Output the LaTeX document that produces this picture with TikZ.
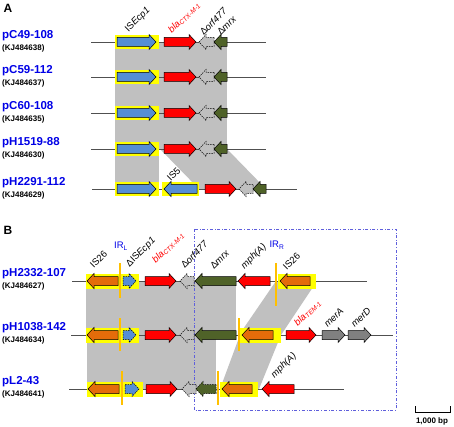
\documentclass[tikz,border=0pt]{standalone}
\usepackage{fontspec}
\setmainfont{Liberation Sans}
\usepackage{tikz}
\usetikzlibrary{positioning}

\definecolor{genblue}{RGB}{85,142,213}
\definecolor{genred}{RGB}{255,0,0}
\definecolor{genorange}{RGB}{228,108,10}
\definecolor{gengreen}{RGB}{79,98,40}
\definecolor{genlgrey}{RGB}{191,191,191}
\definecolor{gendgrey}{RGB}{128,128,128}
\definecolor{shadegrey}{RGB}{192,192,192}
\definecolor{isyellow}{RGB}{255,255,0}
\definecolor{irorange}{RGB}{255,192,0}
\definecolor{nameblue}{RGB}{0,0,230}
\definecolor{boxblue}{RGB}{95,95,220}
\definecolor{bbgrey}{RGB}{80,80,80}

\tikzset{
  gene/.style={draw=black, line width=0.5pt, line join=miter},
  partial/.style={dash pattern=on 1.5pt off 1pt},
  backbone/.style={draw=bbgrey, line width=0.8pt},
  isbox/.style={fill=isyellow},
  irline/.style={draw=irorange, line width=1.4pt},
  sample/.style={font=\fontsize{11.5}{12}\selectfont\bfseries, text=nameblue, inner sep=0pt, anchor=west},
  accno/.style={font=\fontsize{8}{9}\selectfont\bfseries, inner sep=0pt, anchor=west},
  glabel/.style={font=\fontsize{9.5}{10}\selectfont, rotate=45, inner sep=0pt, anchor=south west},
  irlabel/.style={font=\fontsize{9.5}{10}\selectfont, text=nameblue, inner sep=0pt},
  panel/.style={font=\fontsize{12}{13}\selectfont\bfseries, inner sep=0pt}
}

% gene arrow: [style]{tail x}{tip x}{y}
\newcommand{\genearrow}[4][]{%
  \pgfmathsetmacro{\hx}{ifthenelse(#3>#2,#3-7,#3+7)}%
  \draw[gene,#1] (#2,#4-4.5) -- (\hx,#4-4.5) -- (\hx,#4-7.5) -- (#3,#4)
    -- (\hx,#4+7.5) -- (\hx,#4+4.5) -- (#2,#4+4.5) -- cycle;}

\begin{document}
\begin{tikzpicture}[x=1pt,y=-1pt]
	\useasboundingbox (0,0) rectangle (454,427);

	% Panel A
	\node[panel] (pA) at (8,8) {A};
	% Shaded homology
	\fill[shadegrey] (115,42) rectangle (227,149);
	\fill[shadegrey] (115,149) rectangle (159,189);
	\fill[shadegrey] (160,149) -- (227,149) -- (266,189) -- (199,189) -- cycle;

	% Identical rows
	\foreach \y in {42,77,113,149} {
		\draw[backbone] (91,\y) -- (266,\y);
		\fill[isbox] (115,\y-7) rectangle (159,\y+7);
		\genearrow[fill=genblue]{117}{156}{\y}
		\genearrow[fill=genred]{164}{196}{\y}
		\genearrow[fill=genlgrey,partial]{214}{199}{\y}
		\genearrow[fill=gengreen]{227}{214}{\y}
	}
	% pH2291-112 with IS5
	\draw[backbone] (92,189) -- (297,189);
	\fill[isbox] (115,182) rectangle (159,196);
	\fill[isbox] (162,182) rectangle (199,196);
	\genearrow[fill=genblue]{117}{156}{189}
	\genearrow[fill=genblue]{197}{164}{189}
	\genearrow[fill=genred]{205}{236}{189}
	\genearrow[fill=genlgrey,partial]{253}{239}{189}
	\genearrow[fill=gengreen]{266}{253}{189}
	\node[glabel] (lIS5) at (171,182) {IS5};

	% Sample names A
	\node[sample] (nC49) at (2,36) {pC49-108};
	\node[accno] (aC49) at (2,48) {(KJ484638)};
	\node[sample] (nC59) at (2,71) {pC59-112};
	\node[accno] (aC59) at (2,83) {(KJ484637)};
	\node[sample] (nC60) at (2,107) {pC60-108};
	\node[accno] (aC60) at (2,119) {(KJ484635)};
	\node[sample] (nH1519) at (2,143) {pH1519-88};
	\node[accno] (aH1519) at (2,155) {(KJ484630)};
	\node[sample] (nH2291) at (2,183) {pH2291-112};
	\node[accno] (aH2291) at (2,195) {(KJ484629)};

	% Gene labels A
	\node[glabel] (lISa) at (130,34) {IS\textit{Ecp1}};
	\node[glabel, text=genred] (lCTXa) at (173,35) {\textit{bla}\textsubscript{\textit{CTX-M-1}}};
	\node[glabel] (lorfa) at (204,36) {Δ\textit{orf477}};
	\node[glabel] (lmrxa) at (221,36) {Δ\textit{mrx}};

	% Panel B
	\node[panel] (pB) at (8,230) {B};
	% Shaded homology
	\fill[shadegrey] (86,281) rectangle (236,335);
	\fill[shadegrey] (87,335) rectangle (216,389);
	\fill[shadegrey] (276,281) -- (317,281) -- (281,335) -- (239,335) -- cycle;
	\fill[shadegrey] (240,335) -- (281,335) -- (259,389) -- (220,389) -- cycle;
	% Region box
	\draw[boxblue, dash dot, line width=0.6pt] (194,229) rectangle (396,410);

	% pH2332-107
	\draw[backbone] (72,281) -- (367,281);
	\fill[isbox] (86,273.5) rectangle (139,288.5);
	\fill[isbox] (278,273.5) rectangle (316,288.5);
	\genearrow[fill=genorange]{118}{87}{281}
	\genearrow[fill=genblue,partial]{123}{136}{281}
	\genearrow[fill=genred]{145}{176}{281}
	\genearrow[fill=genlgrey,partial]{194}{180}{281}
	\genearrow[fill=gengreen]{236}{195}{281}
	\genearrow[fill=genred]{270}{238}{281}
	\genearrow[fill=genorange]{310}{280}{281}
	\draw[irline] (120,263) -- (120,298);
	\draw[irline] (276,263) -- (276,306);

	% pH1038-142
	\draw[backbone] (71,335) -- (393,335);
	\fill[isbox] (86,327.5) rectangle (139,342.5);
	\fill[isbox] (240,327.5) rectangle (281,342.5);
	\genearrow[fill=genorange]{118}{87}{335}
	\genearrow[fill=genblue,partial]{123}{136}{335}
	\genearrow[fill=genred]{145}{176}{335}
	\genearrow[fill=genlgrey,partial]{194}{180}{335}
	\genearrow[fill=gengreen]{236}{195}{335}
	\genearrow[fill=genorange]{273}{242}{335}
	\genearrow[fill=genred]{286}{316}{335}
	\genearrow[fill=gendgrey]{322}{345}{335}
	\genearrow[fill=gendgrey]{348}{371}{335}
	\draw[irline] (120,318) -- (120,351);
	\draw[irline] (239,318) -- (239,351);

	% pL2-43
	\draw[backbone] (69,389) -- (344,389);
	\fill[isbox] (87,381.5) rectangle (143,396.5);
	\fill[isbox] (220,381.5) rectangle (258,396.5);
	\genearrow[fill=genorange]{119}{88}{389}
	\genearrow[fill=genblue,partial]{125}{139}{389}
	\genearrow[fill=genred]{146}{177}{389}
	\genearrow[fill=genlgrey,partial]{196}{182}{389}
	\genearrow[fill=gengreen,partial]{216}{196}{389}
	\genearrow[fill=genorange]{252}{222}{389}
	\genearrow[fill=genred]{294}{262}{389}
	\draw[irline] (122,371) -- (122,405);
	\draw[irline] (218,371) -- (218,405);

	% Sample names B
	\node[sample] (nH2332) at (2,274) {pH2332-107};
	\node[accno] (aH2332) at (2,286) {(KJ484627)};
	\node[sample] (nH1038) at (2,328) {pH1038-142};
	\node[accno] (aH1038) at (2,340) {(KJ484634)};
	\node[sample] (nL2) at (2,382) {pL2-43};
	\node[accno] (aL2) at (2,394) {(KJ484641)};

	% Gene labels B
	\node[glabel] (lIS26l) at (94,269) {IS26};
	\node[irlabel] (lIRL) at (121,246) {IR\textsubscript{L}};
	\node[glabel] (lISb) at (131,269) {ΔIS\textit{Ecp1}};
	\node[glabel, text=genred] (lCTXb) at (157,265) {\textit{bla}\textsubscript{\textit{CTX-M-1}}};
	\node[glabel] (lorfb) at (185,269) {Δ\textit{orf477}};
	\node[glabel] (lmrxb) at (214,270) {Δ\textit{mrx}};
	\node[glabel] (lmphb) at (246,271) {\textit{mph(A)}};
	\node[irlabel] (lIRR) at (277,245) {IR\textsubscript{R}};
	\node[glabel] (lIS26r) at (287,271) {IS26};
	\node[glabel, text=genred] (lTEM) at (299,328) {\textit{bla}\textsubscript{\textit{TEM-1}}};
	\node[glabel] (lmerA) at (328,328) {\textit{merA}};
	\node[glabel] (lmerD) at (355,328) {\textit{merD}};
	\node[glabel] (lmphc) at (276,380) {\textit{mph(A)}};

	% Scale bar
	\draw[line width=0.8pt] (415,406) -- (415,412) -- (450,412) -- (450,406);
	\node[accno, anchor=center] (lscale) at (432,421) {1,000 bp};
\end{tikzpicture}
\end{document}
